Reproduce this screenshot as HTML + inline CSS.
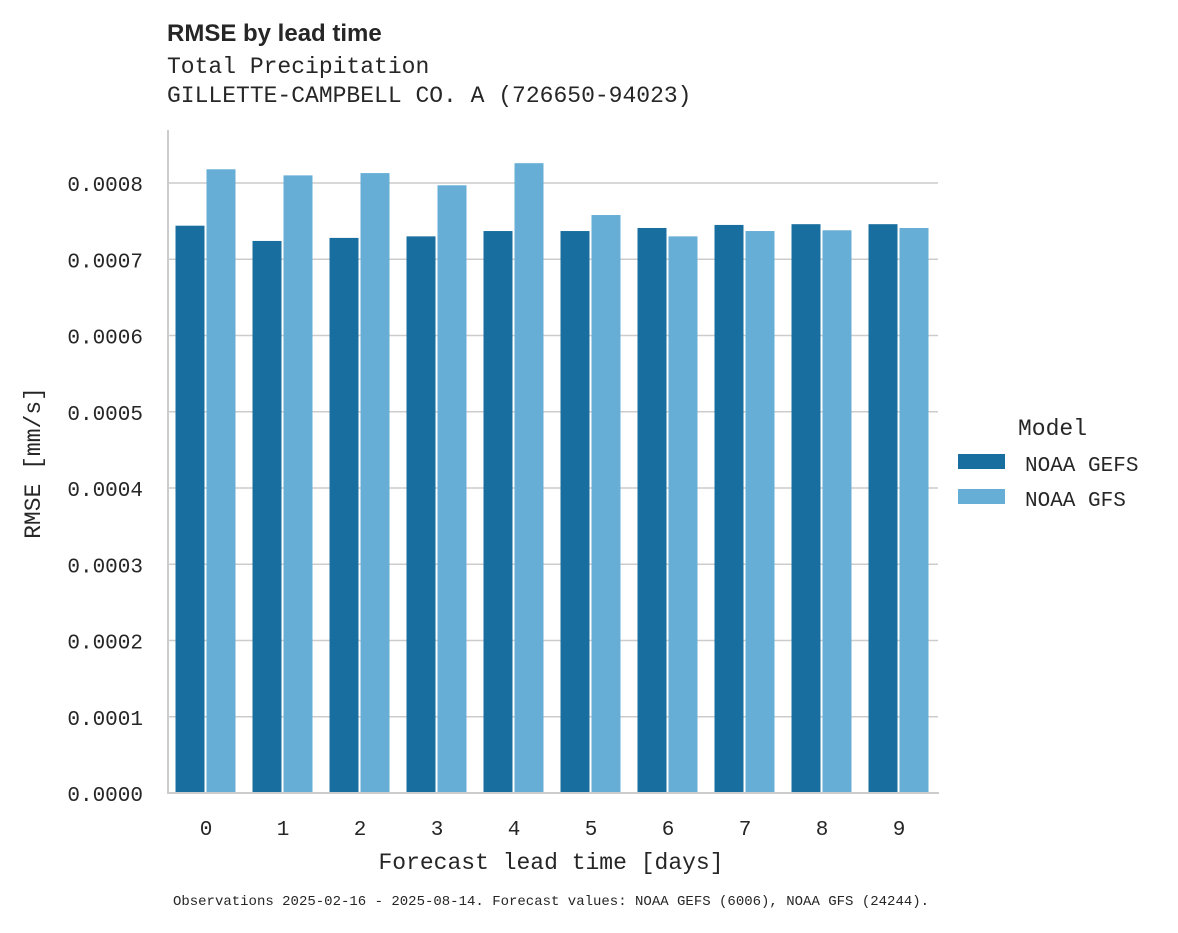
<!DOCTYPE html>
<html><head><meta charset="utf-8"><style>
body{margin:0;background:#fff;}
svg text{font-family:"Liberation Mono",monospace;fill:#262626;}
</style></head><body>
<svg width="1178" height="928" xmlns="http://www.w3.org/2000/svg" id="chart">
<text x="167" y="41" font-size="24" font-weight="bold" style="font-family:'Liberation Sans',sans-serif">RMSE by lead time</text>
<text x="167" y="73" font-size="23">Total Precipitation</text>
<text x="167" y="102" font-size="23">GILLETTE-CAMPBELL CO. A (726650-94023)</text>
<g id="grid"></g>
<g id="bars"></g>
<line x1="168" y1="130" x2="168" y2="794" stroke="#ccc" stroke-width="2"/>
<line x1="167" y1="793" x2="939" y2="793" stroke="#ccc" stroke-width="2"/>
<g id="yticks"></g>
<g id="xticks"></g>
<text x="551" y="869" font-size="23" text-anchor="middle">Forecast lead time [days]</text>
<text transform="translate(40,463) rotate(-90)" font-size="23" text-anchor="middle">RMSE [mm/s]</text>
<g>
<text x="1018" y="435" font-size="23">Model</text>
<rect x="958" y="454" width="47" height="15" fill="#186f9f"/>
<text x="1025" y="471" font-size="21">NOAA GEFS</text>
<rect x="958" y="489" width="47" height="15" fill="#67aed6"/>
<text x="1025" y="506" font-size="21">NOAA GFS</text>
</g>
<text x="551" y="905" font-size="14" text-anchor="middle">Observations 2025-02-16 - 2025-08-14. Forecast values: NOAA GEFS (6006), NOAA GFS (24244).</text>
</svg>
<script>
const categories=["0","1","2","3","4","5","6","7","8","9"];
const gefs=[0.000744,0.000724,0.000728,0.000730,0.000737,0.000737,0.000741,0.000745,0.000746,0.000746];
const gfs=[0.000818,0.000810,0.000813,0.000797,0.000826,0.000758,0.000730,0.000737,0.000738,0.000741];
const yTicks=[0,0.0001,0.0002,0.0003,0.0004,0.0005,0.0006,0.0007,0.0008];
const yTickLabels=["0.0000","0.0001","0.0002","0.0003","0.0004","0.0005","0.0006","0.0007","0.0008"];
const NS="http://www.w3.org/2000/svg";
const y=v=>793-v*762500;
const x=i=>206+i*77;
function mk(t,a,p){const e=document.createElementNS(NS,t);for(const k in a)e.setAttribute(k,a[k]);p.appendChild(e);return e;}
const grid=document.getElementById('grid'),yt=document.getElementById('yticks'),xt=document.getElementById('xticks'),bars=document.getElementById('bars');
yTicks.forEach((v,i)=>{
 if(v>0){const l=mk('line',{x1:168,x2:938,y1:y(v),y2:y(v),stroke:'#ccc','stroke-width':1.6},grid);
 
 }
 const t=mk('text',{x:143,y:y(v)+8,'font-size':21,'text-anchor':'end'},yt);t.textContent=yTickLabels[i];
 
 
});
categories.forEach((c,i)=>{
 const t=mk('text',{x:x(i),y:835,'font-size':21,'text-anchor':'middle'},xt);t.textContent=c;
 
 
 const b1=mk('rect',{x:x(i)-30.5,y:y(gefs[i]),width:29,height:793-y(gefs[i]),fill:'#186f9f'},bars);
 
 
 const b2=mk('rect',{x:x(i)+0.5,y:y(gfs[i]),width:29,height:793-y(gfs[i]),fill:'#67aed6'},bars);
 
 
});
</script>
</body></html>
